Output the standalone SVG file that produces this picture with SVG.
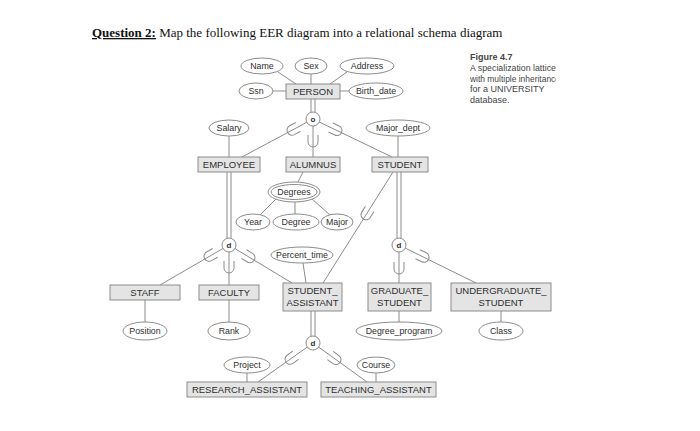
<svg xmlns="http://www.w3.org/2000/svg" xmlns:xlink="http://www.w3.org/1999/xlink" width="700" height="431" viewBox="0 0 700 431">
<style>
.ent rect{fill:#e4e4e4;stroke:#8c8c8c;stroke-width:1}
.ent text{font-family:"Liberation Sans",Arial,sans-serif;font-size:9.5px;fill:#2e2e2e;text-anchor:middle}
.att ellipse{fill:#fff;stroke:#8c8c8c;stroke-width:1}
.att text{font-family:"Liberation Sans",Arial,sans-serif;font-size:8.8px;fill:#2e2e2e;text-anchor:middle}
.cir circle{fill:#fff;stroke:#8c8c8c;stroke-width:1}
.cir text{font-family:"Liberation Sans",Arial,sans-serif;font-size:8px;font-weight:bold;fill:#2e2e2e;text-anchor:middle}
#connectors line{stroke:#8c8c8c;stroke-width:1}
.hook{fill:none;stroke:#8c8c8c;stroke-width:1}
.cap{font-family:"Liberation Sans",Arial,sans-serif;font-size:9px;fill:#444}
</style>
<defs>
<path id="hook" class="hook" d="M -5 -7 L -5 0 A 5 5 0 0 0 5 0 L 5 -7"/>
<clipPath id="capclip"><rect x="460" y="40" width="96" height="80"/></clipPath>
</defs>
<rect width="700" height="431" fill="#fff"/>
<text x="92" y="37" font-family="'Liberation Serif','Times New Roman',serif" font-size="13" fill="#111"><tspan font-weight="bold" text-decoration="underline">Question 2:</tspan> Map the following EER diagram into a relational schema diagram</text>
<g id="caption" clip-path="url(#capclip)">
<text class="cap" x="470" y="60" font-weight="bold" font-size="9.5" fill="#222">Figure 4.7</text>
<text class="cap" x="470" y="71" textLength="86" lengthAdjust="spacingAndGlyphs">A specialization lattice</text>
<text class="cap" x="470" y="81.5" textLength="90" lengthAdjust="spacingAndGlyphs">with multiple inheritance</text>
<text class="cap" x="470" y="92">for a UNIVERSITY</text>
<text class="cap" x="470" y="102.5">database.</text>
</g>
<g id="connectors">
<line x1="278" y1="72" x2="296" y2="84"/>
<line x1="311" y1="74" x2="311" y2="84"/>
<line x1="347" y1="72" x2="330" y2="84"/>
<line x1="273" y1="91" x2="286" y2="91"/>
<line x1="340" y1="91" x2="349" y2="91"/>
<line x1="311" y1="99" x2="311" y2="113"/>
<line x1="315" y1="99" x2="315" y2="113"/>
<line x1="313" y1="119" x2="242" y2="157"/>
<line x1="313" y1="119" x2="313" y2="157"/>
<line x1="313" y1="119" x2="392" y2="157"/>
<line x1="229" y1="136" x2="229" y2="157"/>
<line x1="398" y1="136" x2="398" y2="157"/>
<line x1="303" y1="172" x2="298" y2="182"/>
<line x1="276" y1="199" x2="260" y2="215"/>
<line x1="295" y1="202" x2="295" y2="214"/>
<line x1="312" y1="199" x2="330" y2="215"/>
<line x1="227" y1="172" x2="227" y2="239"/>
<line x1="231" y1="172" x2="231" y2="239"/>
<line x1="229" y1="245" x2="160" y2="285"/>
<line x1="229" y1="245" x2="229" y2="285"/>
<line x1="229" y1="245" x2="292" y2="283"/>
<line x1="393" y1="172" x2="323" y2="283"/>
<line x1="303" y1="263" x2="306" y2="283"/>
<line x1="397" y1="172" x2="397" y2="239"/>
<line x1="401" y1="172" x2="401" y2="239"/>
<line x1="399" y1="245" x2="399" y2="283"/>
<line x1="399" y1="245" x2="476" y2="283"/>
<line x1="145" y1="300" x2="145" y2="322"/>
<line x1="229" y1="300" x2="229" y2="322"/>
<line x1="399" y1="311" x2="399" y2="322"/>
<line x1="501" y1="311" x2="501" y2="322"/>
<line x1="311" y1="311" x2="311" y2="337"/>
<line x1="315" y1="311" x2="315" y2="337"/>
<line x1="313" y1="343" x2="258" y2="382"/>
<line x1="313" y1="343" x2="367" y2="382"/>
<line x1="247" y1="373" x2="247" y2="382"/>
<line x1="376" y1="373" x2="376" y2="382"/>
<use xlink:href="#hook" href="#hook" transform="translate(292,130.2) rotate(61.8)"/>
<use xlink:href="#hook" href="#hook" transform="translate(313,142)"/>
<use xlink:href="#hook" href="#hook" transform="translate(337,130.5) rotate(-64.3)"/>
<use xlink:href="#hook" href="#hook" transform="translate(209,256.3) rotate(60.5)"/>
<use xlink:href="#hook" href="#hook" transform="translate(229,268)"/>
<use xlink:href="#hook" href="#hook" transform="translate(250,257.7) rotate(-58.9)"/>
<use xlink:href="#hook" href="#hook" transform="translate(366,214.8) rotate(32.2)"/>
<use xlink:href="#hook" href="#hook" transform="translate(399,269)"/>
<use xlink:href="#hook" href="#hook" transform="translate(424,257.3) rotate(-63.7)"/>
<use xlink:href="#hook" href="#hook" transform="translate(290,359.3) rotate(54.7)"/>
<use xlink:href="#hook" href="#hook" transform="translate(336,359.6) rotate(-54.2)"/>
</g>
<g id="PERSON" class="ent"><rect x="286" y="84" width="54" height="15"/><text x="313" y="95">PERSON</text></g>
<g id="EMPLOYEE" class="ent"><rect x="198" y="157" width="62" height="15"/><text x="229" y="168">EMPLOYEE</text></g>
<g id="ALUMNUS" class="ent"><rect x="286" y="157" width="54" height="15"/><text x="313" y="168">ALUMNUS</text></g>
<g id="STUDENT" class="ent"><rect x="372" y="157" width="56" height="15"/><text x="400" y="168">STUDENT</text></g>
<g id="STAFF" class="ent"><rect x="110" y="285" width="70" height="15"/><text x="145" y="296">STAFF</text></g>
<g id="FACULTY" class="ent"><rect x="199" y="285" width="60" height="15"/><text x="229" y="296">FACULTY</text></g>
<g id="STUDENT_ASSISTANT" class="ent"><rect x="283" y="283" width="59" height="28"/><text x="312.5" y="294">STUDENT_</text><text x="312.5" y="305.5">ASSISTANT</text></g>
<g id="GRADUATE_STUDENT" class="ent"><rect x="368" y="283" width="63" height="28"/><text x="399.5" y="294">GRADUATE_</text><text x="399.5" y="305.5">STUDENT</text></g>
<g id="UNDERGRADUATE_STUDENT" class="ent"><rect x="451" y="283" width="100" height="28"/><text x="501" y="294">UNDERGRADUATE_</text><text x="501" y="305.5">STUDENT</text></g>
<g id="RESEARCH_ASSISTANT" class="ent"><rect x="187" y="382" width="120" height="15"/><text x="247" y="393">RESEARCH_ASSISTANT</text></g>
<g id="TEACHING_ASSISTANT" class="ent"><rect x="321" y="382" width="115" height="15"/><text x="378.5" y="393">TEACHING_ASSISTANT</text></g>
<g id="Name" class="att"><ellipse cx="262" cy="66" rx="21" ry="8"/><text x="262" y="69">Name</text></g>
<g id="Sex" class="att"><ellipse cx="311" cy="66" rx="16" ry="8"/><text x="311" y="69">Sex</text></g>
<g id="Address" class="att"><ellipse cx="367" cy="66" rx="27" ry="8"/><text x="367" y="69">Address</text></g>
<g id="Ssn" class="att"><ellipse cx="256" cy="91" rx="17" ry="8"/><text x="256" y="94">Ssn</text></g>
<g id="Birth_date" class="att"><ellipse cx="376" cy="91" rx="27" ry="8"/><text x="376" y="94">Birth_date</text></g>
<g id="Salary" class="att"><ellipse cx="229" cy="128" rx="20" ry="8"/><text x="229" y="131">Salary</text></g>
<g id="Major_dept" class="att"><ellipse cx="398" cy="128" rx="32" ry="8"/><text x="398" y="131">Major_dept</text></g>
<g id="Degrees" class="att"><ellipse cx="294" cy="192" rx="26" ry="10"/><ellipse cx="294" cy="192" rx="23" ry="7.5"/><text x="294" y="195">Degrees</text></g>
<g id="Year" class="att"><ellipse cx="253" cy="222" rx="17" ry="8"/><text x="253" y="225">Year</text></g>
<g id="Degree" class="att"><ellipse cx="296" cy="222" rx="23" ry="8"/><text x="296" y="225">Degree</text></g>
<g id="Major" class="att"><ellipse cx="337" cy="222" rx="16" ry="8"/><text x="337" y="225">Major</text></g>
<g id="Percent_time" class="att"><ellipse cx="302" cy="255" rx="31" ry="8"/><text x="302" y="258">Percent_time</text></g>
<g id="Position" class="att"><ellipse cx="145" cy="331" rx="22" ry="9"/><text x="145" y="334">Position</text></g>
<g id="Rank" class="att"><ellipse cx="229" cy="331" rx="21" ry="9"/><text x="229" y="334">Rank</text></g>
<g id="Degree_program" class="att"><ellipse cx="399" cy="331" rx="43" ry="9"/><text x="399" y="334">Degree_program</text></g>
<g id="Class" class="att"><ellipse cx="501" cy="331" rx="22" ry="9"/><text x="501" y="334">Class</text></g>
<g id="Project" class="att"><ellipse cx="247" cy="365" rx="23" ry="8"/><text x="247" y="368">Project</text></g>
<g id="Course" class="att"><ellipse cx="376" cy="365" rx="19" ry="8"/><text x="376" y="368">Course</text></g>
<g id="overlap_o" class="cir"><circle cx="313" cy="119" r="7"/><text x="313" y="122">o</text></g>
<g id="disjoint_emp" class="cir"><circle cx="229" cy="245" r="7"/><text x="229" y="248">d</text></g>
<g id="disjoint_stu" class="cir"><circle cx="399" cy="245" r="7"/><text x="399" y="248">d</text></g>
<g id="disjoint_sa" class="cir"><circle cx="313" cy="343" r="7"/><text x="313" y="346">d</text></g>
</svg>
